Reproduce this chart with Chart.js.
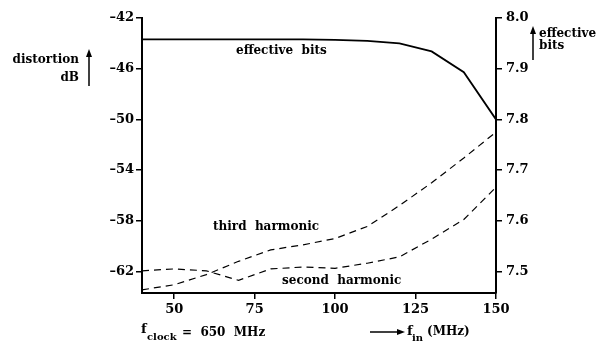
<!DOCTYPE html>
<html>
<head>
<meta charset="utf-8">
<script src="https://cdn.jsdelivr.net/npm/chart.js@4"></script>
<style>
  html, body { margin: 0; padding: 0; background: #fff; }
</style>
</head>
<body>
<canvas id="chart" width="602" height="343"></canvas>
<script>
const freqs = [40, 50, 60, 70, 80, 90, 100, 110, 120, 130, 140, 150];
const thirdHarmonic = [-63.45, -63.05, -62.25, -61.2, -60.3, -59.9, -59.4, -58.45, -56.8, -55.0, -53.05, -51.0];
const secondHarmonic = [-61.95, -61.8, -61.95, -62.7, -61.8, -61.65, -61.75, -61.35, -60.85, -59.45, -57.9, -55.35];
const effectiveBits = [7.958, 7.958, 7.958, 7.958, 7.958, 7.958, 7.957, 7.955, 7.95, 7.934, 7.893, 7.8];

const distortionTicks = [-42, -46, -50, -54, -58, -62];
const bitsTicks = [8.0, 7.9, 7.8, 7.7, 7.6, 7.5];
const freqTicks = [50, 75, 100, 125, 150];

const tickFont = { family: 'DejaVu Serif', weight: 'bold', size: 13 };

function points(ys) {
  return freqs.map((f, i) => ({ x: f, y: ys[i] }));
}

function axisLook(extra) {
  return Object.assign({
    grid: { drawOnChartArea: false, drawTicks: true, tickLength: 6, color: '#000', lineWidth: 1.5 },
    border: { display: true, color: '#000', width: 2 },
  }, extra);
}

// arrow with a filled head at (x2, y2)
function arrow(ctx, x1, y1, x2, y2) {
  const a = Math.atan2(y2 - y1, x2 - x1);
  ctx.lineWidth = 1.5;
  ctx.beginPath();
  ctx.moveTo(x1, y1);
  ctx.lineTo(x2 - 6 * Math.cos(a), y2 - 6 * Math.sin(a));
  ctx.stroke();
  ctx.beginPath();
  ctx.moveTo(x2, y2);
  ctx.lineTo(x2 - 8 * Math.cos(a) + 3 * Math.sin(a), y2 - 8 * Math.sin(a) - 3 * Math.cos(a));
  ctx.lineTo(x2 - 8 * Math.cos(a) - 3 * Math.sin(a), y2 - 8 * Math.sin(a) + 3 * Math.cos(a));
  ctx.closePath();
  ctx.fill();
}

const notes = {
  id: 'notes',
  afterDraw(chart) {
    const ctx = chart.ctx;
    ctx.save();
    ctx.fillStyle = '#000';
    ctx.strokeStyle = '#000';
    ctx.textBaseline = 'middle';

    // curve labels
    ctx.font = 'bold 12px "DejaVu Serif"';
    ctx.textAlign = 'left';
    ctx.fillText('effective  bits', 236, 51);
    ctx.fillText('third  harmonic', 213, 227);
    ctx.fillText('second  harmonic', 282, 281);

    // left axis title
    ctx.font = 'bold 12px "DejaVu Serif"';
    ctx.textAlign = 'right';
    ctx.fillText('distortion', 79, 60);
    ctx.fillText('dB', 79, 78);
    arrow(ctx, 89, 86, 89, 49);

    // right axis title
    ctx.font = 'bold 12px "DejaVu Serif"';
    ctx.textAlign = 'left';
    ctx.fillText('effective', 539, 34);
    ctx.fillText('bits', 539, 46);
    arrow(ctx, 533, 60, 533, 26);

    // bottom notes
    ctx.textBaseline = 'alphabetic';
    ctx.font = 'bold 13px "DejaVu Serif"';
    ctx.fillText('f', 141, 333);
    ctx.font = 'bold 10px "DejaVu Serif"';
    ctx.fillText('clock', 147, 340);
    ctx.font = 'bold 12px "DejaVu Serif"';
    ctx.fillText('=  650  MHz', 182, 336);

    arrow(ctx, 370, 332, 405, 332);
    ctx.font = 'bold 13px "DejaVu Serif"';
    ctx.fillText('f', 407, 335);
    ctx.font = 'bold 10px "DejaVu Serif"';
    ctx.fillText('in', 412, 341);
    ctx.font = 'bold 12px "DejaVu Serif"';
    ctx.fillText('(MHz)', 427, 335);
    ctx.restore();
  }
};

new Chart(document.getElementById('chart'), {
  type: 'line',
  data: {
    datasets: [
      {
        label: 'third harmonic',
        data: points(thirdHarmonic),
        yAxisID: 'y',
        borderColor: '#000',
        borderWidth: 1.2,
        borderDash: [7, 5],
        pointRadius: 0,
        tension: 0
      },
      {
        label: 'second harmonic',
        data: points(secondHarmonic),
        yAxisID: 'y',
        borderColor: '#000',
        borderWidth: 1.2,
        borderDash: [7, 5],
        pointRadius: 0,
        tension: 0
      },
      {
        label: 'effective bits',
        data: points(effectiveBits),
        yAxisID: 'y2',
        borderColor: '#000',
        borderWidth: 1.8,
        pointRadius: 0,
        tension: 0
      }
    ]
  },
  options: {
    responsive: false,
    animation: false,
    layout: { padding: { top: 18, left: 0, right: 0, bottom: 0 } },
    plugins: { legend: { display: false }, tooltip: { enabled: false } },
    scales: {
      x: axisLook({
        type: 'linear',
        min: 40,
        max: 150,
        afterBuildTicks: s => { s.ticks = freqTicks.map(v => ({ value: v })); },
        afterFit: s => { s.height = 50; },
        ticks: { font: tickFont, color: '#000', padding: 3, maxRotation: 0 }
      }),
      y: axisLook({
        position: 'left',
        min: -63.7,
        max: -42,
        afterBuildTicks: s => { s.ticks = distortionTicks.map(v => ({ value: v })); },
        afterFit: s => { s.width = 142; },
        ticks: { font: tickFont, color: '#000', padding: 2, callback: v => '\u2013' + Math.abs(v) }
      }),
      y2: axisLook({
        position: 'right',
        min: 8.0 - 21.7 / 40,
        max: 8.0,
        afterBuildTicks: s => { s.ticks = bitsTicks.map(v => ({ value: v })); },
        afterFit: s => { s.width = 106; },
        ticks: { font: tickFont, color: '#000', padding: 4, callback: v => v.toFixed(1) }
      })
    }
  },
  plugins: [notes]
});
</script>
</body>
</html>
